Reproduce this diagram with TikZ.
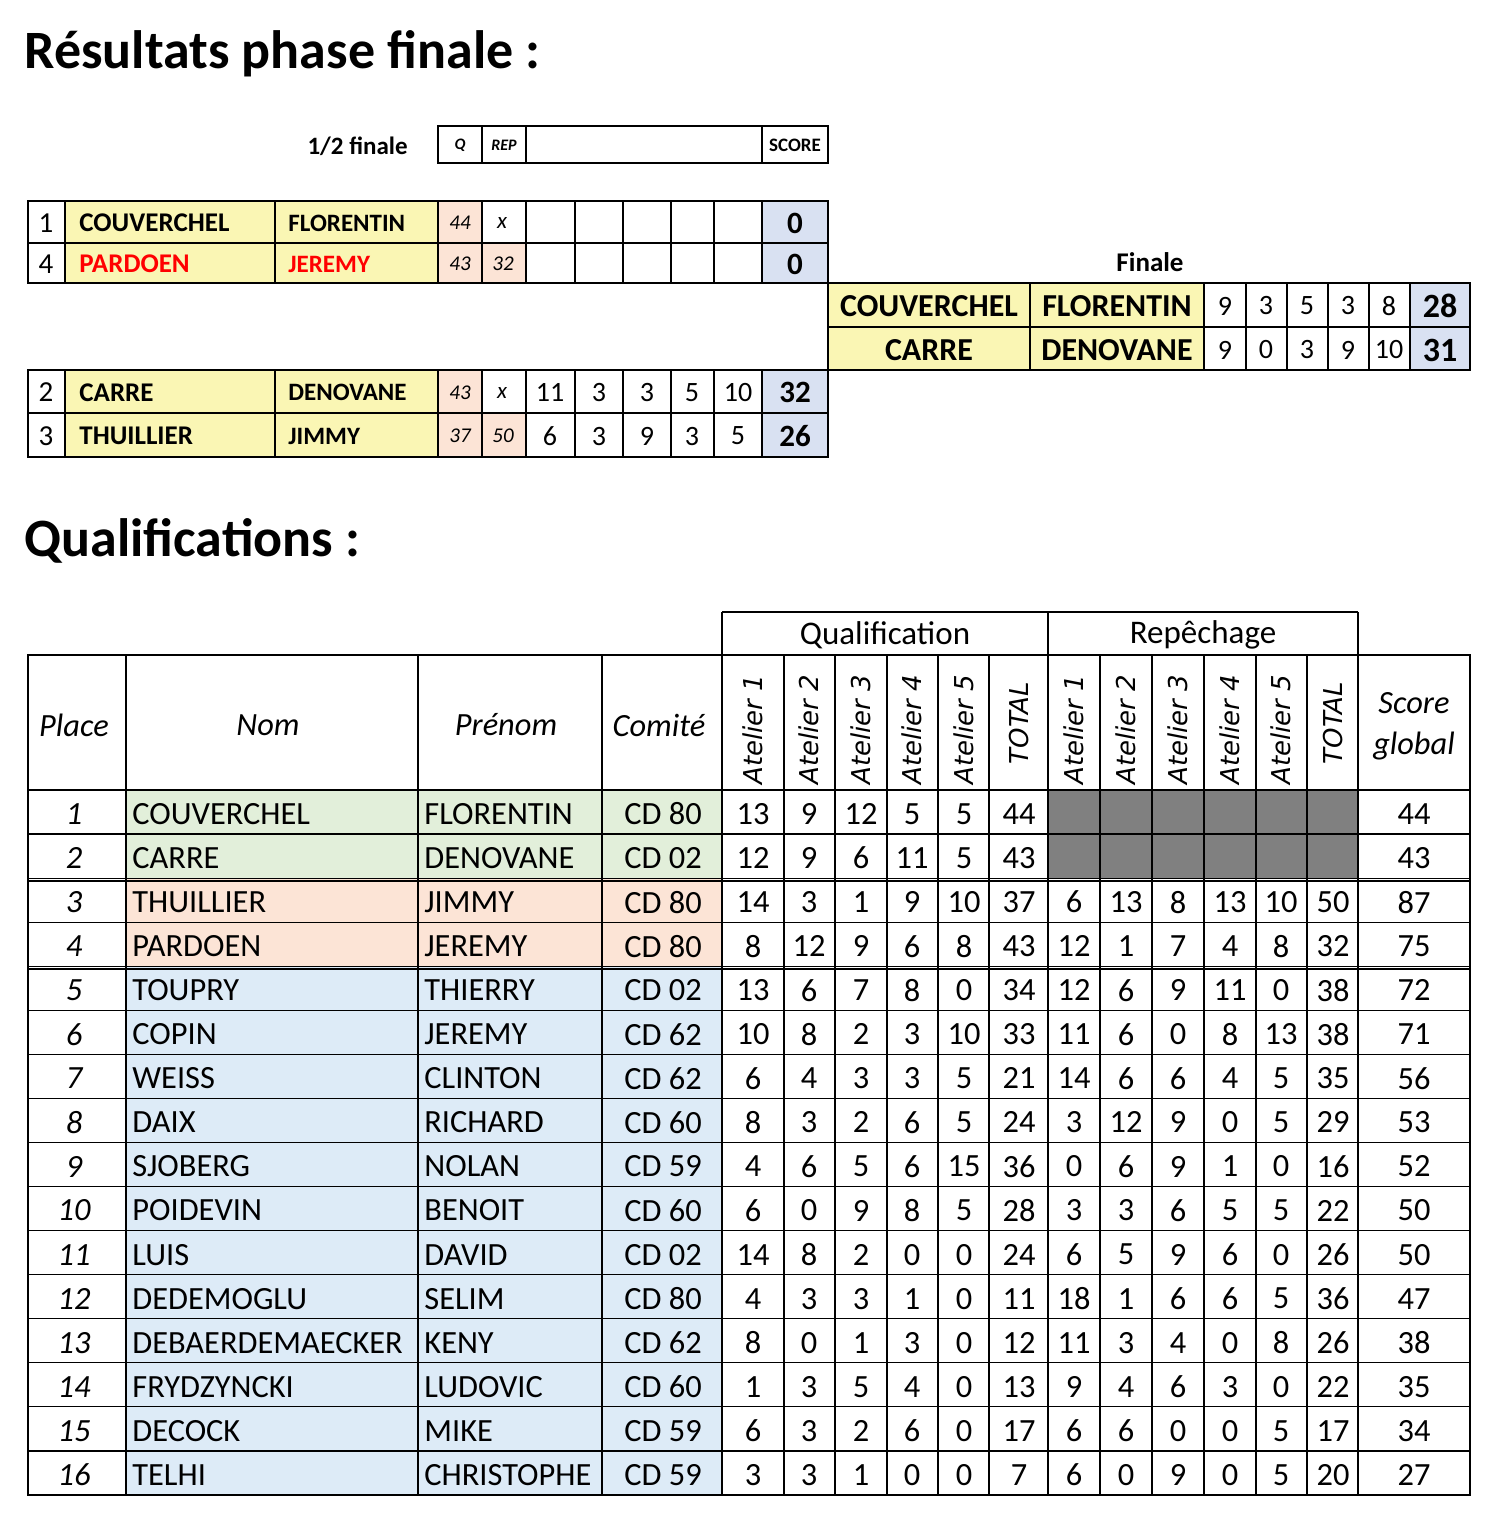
\documentclass[tikz,border=0pt]{standalone}
\usepackage{fontspec}
\setmainfont{Carlito}
\newfontfamily\verd{DejaVu Sans}
\definecolor{yel}{HTML}{FAF6B4}
\definecolor{pnk}{HTML}{FCE4D6}
\definecolor{blu}{HTML}{D9E1F2}
\definecolor{grn}{HTML}{E2EFDA}
\definecolor{lbl}{HTML}{DDEBF7}
\definecolor{gry}{HTML}{808080}
\begin{document}
\begin{tikzpicture}[x=0.5pt,y=-0.5pt,
  thin line/.style={line width=0.6pt,draw=black},
  thick line/.style={line width=1.4pt,draw=black},
  sf/.style={font=\bfseries\fontsize{13.5}{15}\selectfont,inner sep=0pt},
  qv/.style={font=\itshape\fontsize{10.5}{12}\selectfont,inner sep=0pt},
  dat/.style={font=\fontsize{16.2}{18}\selectfont,inner sep=0pt},
  hd/.style={font=\itshape\fontsize{16.2}{18}\selectfont,inner sep=0pt},
  vt/.style={font=\verd\itshape\fontsize{13}{15}\selectfont,inner sep=0pt,rotate=90}]
\useasboundingbox (0,0) rectangle (1490,1517);
% titles
\node[anchor=base west,inner sep=0pt,font=\bfseries\fontsize{27}{30}\selectfont] (t1) at (24,68) {Résultats phase finale :};
\node[anchor=base west,inner sep=0pt,font=\bfseries\fontsize{27}{30}\selectfont] (t2) at (24,556) {Qualifications :};
% ---------- semi-final header
\node[anchor=east,font=\bfseries\fontsize{12.5}{14}\selectfont,inner sep=0pt] (hf) at (408,146) {1/2 finale};
\draw[thin line] (438,126) rectangle (828,163);
\foreach \x in {482,526,762} \draw[thin line] (\x,126) -- (\x,163);
\node[font=\bfseries\itshape\fontsize{8}{10}\selectfont] at (460,145) {Q};
\node[font=\bfseries\itshape\fontsize{8}{10}\selectfont] at (504,145) {REP};
\node[font=\bfseries\fontsize{9.5}{10}\selectfont] at (795,145) {SCORE};
% ---------- semi-final blocks
\foreach \yt/\na/\pa/\ca/\qa/\ra/\va/\sa/\nb/\pb/\cb/\qb/\rb/\vb/\sb/\rc in {
  201/1/COUVERCHEL/FLORENTIN/44/x/{}/0/4/PARDOEN/JEREMY/43/32/{}/0/red,
  370/2/CARRE/DENOVANE/43/x/{11,3,3,5,10}/32/3/THUILLIER/JIMMY/37/50/{6,3,9,3,5}/26/black}{
  \pgfmathsetmacro\ym{\yt+(\yt>300?43:42)}\pgfmathsetmacro\yb{\yt+(\yt>300?87:82)}
  \fill[yel] (65,\yt) rectangle (438,\yb);
  \fill[pnk] (438,\yt) rectangle (482,\yb);
  \fill[pnk] (482,\ym) rectangle (526,\yb);
  \fill[blu] (762,\yt) rectangle (828,\yb);
  \foreach \x in {65,275,438,482,526,575,623,671,714,762} \draw[thin line] (\x,\yt) -- (\x,\yb);
  \draw[thin line] (28,\ym) -- (828,\ym);
  \draw[thick line] (28,\yt) rectangle (828,\yb);
  \pgfmathsetmacro\ya{(\yt+\ym)/2+1}\pgfmathsetmacro\yc{(\ym+\yb)/2+1}
  \node[dat,font=\fontsize{14.5}{16}\selectfont] at (46,\ya) {\na};
  \node[dat,font=\fontsize{14.5}{16}\selectfont] at (46,\yc) {\nb};
  \node[sf,anchor=west] at (79,\ya) {\pa};
  \node[sf,anchor=west,font=\bfseries\fontsize{12.5}{15}\selectfont] at (288,\ya) {\ca};
  \node[sf,anchor=west,text=\rc] at (79,\yc) {\pb};
  \node[sf,anchor=west,text=\rc,font=\bfseries\fontsize{12.5}{15}\selectfont] at (288,\yc) {\cb};
  \node[qv] at (460,\ya) {\qa};
  \node[qv,font=\itshape\fontsize{11.5}{12}\selectfont] at (502,\ya) {\ra};
  \node[qv] at (460,\yc) {\qb};
  \node[qv] at (503,\yc) {\rb};
  \foreach \v [count=\k] in \va {\pgfmathparse{{550,599,647,692,738}[\k-1]}\node[dat,font=\fontsize{14}{15}\selectfont] at (\pgfmathresult,\ya) {\v};}
  \foreach \v [count=\k] in \vb {\pgfmathparse{{550,599,647,692,738}[\k-1]}\node[dat,font=\fontsize{14}{15}\selectfont] at (\pgfmathresult,\yc) {\v};}
  \node[sf,font=\bfseries\fontsize{15.5}{16}\selectfont] at (795,\ya) {\sa};
  \node[sf,font=\bfseries\fontsize{15.5}{16}\selectfont] at (795,\yc) {\sb};
}
% ---------- finale
\node[font=\bfseries\fontsize{13.5}{15}\selectfont,inner sep=0pt] (fin) at (1150,262) {Finale};
\fill[yel] (828,283) rectangle (1204,370);
\fill[blu] (1410,283) rectangle (1470,370);
\foreach \x in {1030,1204,1246,1287,1328,1369,1410} \draw[thin line] (\x,283) -- (\x,370);
\draw[thin line] (828,327) -- (1470,327);
\draw[thick line] (828,283) rectangle (1470,370);
\foreach \y/\a/\b/\vals/\s in {306/COUVERCHEL/FLORENTIN/{9,3,5,3,8}/28, 350/CARRE/DENOVANE/{9,0,3,9,10}/31}{
  \node[sf,font=\bfseries\fontsize{16}{17}\selectfont] at (929,\y) {\a};
  \node[sf,font=\bfseries\fontsize{16}{17}\selectfont] at (1117,\y) {\b};
  \foreach \v [count=\k] in \vals {\pgfmathparse{{1225,1266,1307,1348,1389}[\k-1]}\node[dat,font=\fontsize{14}{15}\selectfont] at (\pgfmathresult,\y) {\v};}
  \node[sf,font=\bfseries\fontsize{17}{17}\selectfont] at (1440,\y) {\s};
}
% ---------- qualifications table
\fill[grn] (126,790) rectangle (722,878);
\fill[pnk] (126,878) rectangle (722,966);
\fill[lbl] (126,966) rectangle (722,1495);
\fill[gry] (1048,790) rectangle (1358,878);
\draw[thin line] (722,612) -- (1358,612);
\foreach \x in {722,1048,1358} \draw[thin line] (\x,612) -- (\x,655);
\node[font=\fontsize{16.5}{18}\selectfont,inner sep=0pt] at (885,635) {Qualification};
\node[font=\fontsize{16.5}{18}\selectfont,inner sep=0pt] at (1203,635) {Repêchage};
\foreach \x in {126,418,602,722,784,835,887,938,989,1048,1100,1152,1204,1256,1307,1358}
  \draw[thin line] (\x,655) -- (\x,1495);
\foreach \i in {1,...,15} \draw[thin line] (28,790+\i*44.06) -- (1470,790+\i*44.06);
\draw[thin line] (28,881) -- (1470,881);
\draw[thin line] (28,969) -- (1470,969);
\draw[thick line] (28,790) -- (1470,790);
\draw[thick line] (28,655) rectangle (1470,1495);
% headers
\node[hd] at (74,725) {Place};
\node[hd] at (268,725) {Nom};
\node[hd] at (506,725) {Prénom};
\node[hd] at (659,725) {Comité};
\foreach \x/\t in {753/Atelier 1,809/Atelier 2,861/Atelier 3,912/Atelier 4,964/Atelier 5,1074/Atelier 1,1126/Atelier 2,1178/Atelier 3,1230/Atelier 4,1281/Atelier 5}
  \node[vt,anchor=west] at (\x,785) {\t};
\node[vt] at (1019,723) {TOTAL};
\node[vt] at (1333,723) {TOTAL};
\node[hd] at (1414,703) {Score};
\node[hd] at (1414,746) {global};
% data
\foreach \n/\nom/\pre/\cd/\vals/\sc in {
 1/COUVERCHEL/FLORENTIN/80/{13,9,12,5,5,44}/44,
 2/CARRE/DENOVANE/02/{12,9,6,11,5,43}/43,
 3/THUILLIER/JIMMY/80/{14,3,1,9,10,37,6,13,8,13,10,50}/87,
 4/PARDOEN/JEREMY/80/{8,12,9,6,8,43,12,1,7,4,8,32}/75,
 5/TOUPRY/THIERRY/02/{13,6,7,8,0,34,12,6,9,11,0,38}/72,
 6/COPIN/JEREMY/62/{10,8,2,3,10,33,11,6,0,8,13,38}/71,
 7/WEISS/CLINTON/62/{6,4,3,3,5,21,14,6,6,4,5,35}/56,
 8/DAIX/RICHARD/60/{8,3,2,6,5,24,3,12,9,0,5,29}/53,
 9/SJOBERG/NOLAN/59/{4,6,5,6,15,36,0,6,9,1,0,16}/52,
 10/POIDEVIN/BENOIT/60/{6,0,9,8,5,28,3,3,6,5,5,22}/50,
 11/LUIS/DAVID/02/{14,8,2,0,0,24,6,5,9,6,0,26}/50,
 12/DEDEMOGLU/SELIM/80/{4,3,3,1,0,11,18,1,6,6,5,36}/47,
 13/DEBAERDEMAECKER/KENY/62/{8,0,1,3,0,12,11,3,4,0,8,26}/38,
 14/FRYDZYNCKI/LUDOVIC/60/{1,3,5,4,0,13,9,4,6,3,0,22}/35,
 15/DECOCK/MIKE/59/{6,3,2,6,0,17,6,6,0,0,5,17}/34,
 16/TELHI/CHRISTOPHE/59/{3,3,1,0,0,7,6,0,9,0,5,20}/27}{
  \pgfmathsetmacro\yy{790+(\n-0.5)*44.06+2}
  \node[hd] at (74,\yy) {\n};
  \node[dat,anchor=west] at (132,\yy) {\nom};
  \node[dat,anchor=west] at (424,\yy) {\pre};
  \node[dat] at (663,\yy) {CD \cd};
  \foreach \v [count=\k] in \vals {\pgfmathparse{{753,809,861,912,964,1019,1074,1126,1178,1230,1281,1333}[\k-1]}\node[dat] at (\pgfmathresult,\yy) {\v};}
  \node[dat] at (1414,\yy) {\sc};
}
\end{tikzpicture}
\end{document}
